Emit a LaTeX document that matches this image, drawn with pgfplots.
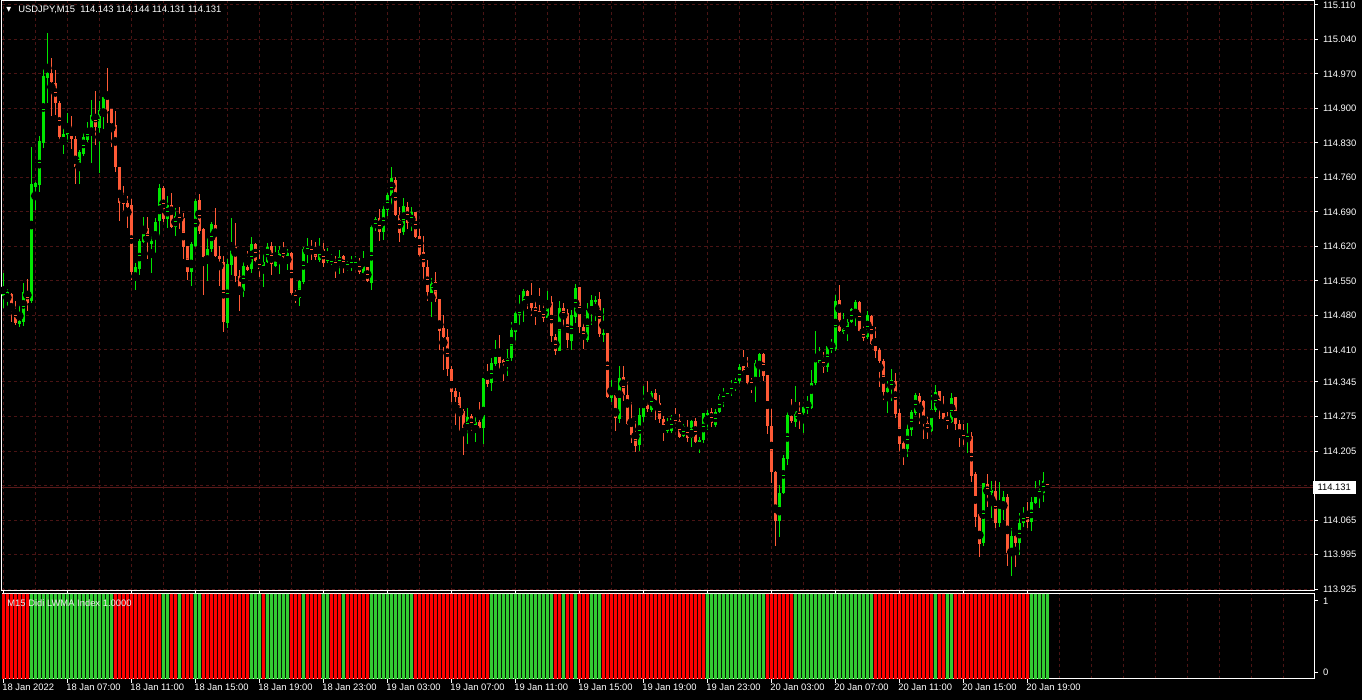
\documentclass[border=0pt]{standalone}
\usepackage{pgfplots}
\pgfplotsset{compat=1.18}
\usepackage{pgfplotstable}
\usepackage{fontspec}
\setmainfont{Liberation Sans}

\definecolor{upc}{HTML}{00E600}
\definecolor{dnc}{HTML}{FF5A36}
\definecolor{gridc}{HTML}{4A1414}
\definecolor{bidc}{HTML}{5A1A1A}
\definecolor{indg}{HTML}{32CD32}
\definecolor{indr}{HTML}{FF0000}
\newcommand\lbl{\fontsize{4.7}{5.6}\selectfont}

% bar index, open, high, low, close, indicator colour (1 green / 0 red)
\pgfplotstableread{
i o h l c g
0 114.519 114.566 114.495 114.528 0
1 114.524 114.534 114.499 114.528 0
2 114.524 114.526 114.467 114.493 0
3 114.493 114.509 114.461 114.465 0
4 114.463 114.501 114.457 114.469 0
5 114.467 114.546 114.459 114.528 0
6 114.528 114.554 114.489 114.505 0
7 114.509 114.822 114.505 114.747 1
8 114.741 114.751 114.694 114.749 1
9 114.745 114.844 114.730 114.834 1
10 114.830 114.984 114.820 114.966 1
11 114.962 115.053 114.911 114.972 1
12 114.972 115.002 114.885 114.954 1
13 114.952 114.978 114.887 114.911 1
14 114.911 114.915 114.832 114.842 1
15 114.840 114.862 114.808 114.848 1
16 114.848 114.891 114.832 114.850 1
17 114.850 114.885 114.818 114.838 1
18 114.838 114.844 114.747 114.781 1
19 114.781 114.816 114.747 114.812 1
20 114.808 114.852 114.804 114.842 1
21 114.836 114.872 114.832 114.860 1
22 114.858 114.917 114.789 114.887 1
23 114.889 114.935 114.826 114.862 1
24 114.860 114.915 114.769 114.897 1
25 114.895 114.925 114.858 114.923 1
26 114.925 114.982 114.870 114.895 1
27 114.899 114.899 114.822 114.870 1
28 114.866 114.895 114.771 114.781 0
29 114.781 114.781 114.672 114.708 0
30 114.710 114.743 114.688 114.706 0
31 114.708 114.722 114.657 114.700 0
32 114.704 114.716 114.552 114.568 0
33 114.566 114.586 114.532 114.578 0
34 114.574 114.635 114.562 114.631 0
35 114.629 114.680 114.627 114.655 0
36 114.657 114.680 114.594 114.629 0
37 114.625 114.645 114.566 114.631 0
38 114.635 114.678 114.607 114.670 0
39 114.672 114.747 114.641 114.739 0
40 114.739 114.743 114.670 114.676 1
41 114.676 114.722 114.657 114.704 1
42 114.704 114.728 114.657 114.659 0
43 114.659 114.698 114.641 114.682 0
44 114.680 114.700 114.655 114.676 1
45 114.678 114.688 114.594 114.619 0
46 114.621 114.621 114.552 114.568 0
47 114.568 114.629 114.540 114.625 0
48 114.621 114.716 114.619 114.712 1
49 114.714 114.726 114.645 114.651 1
50 114.655 114.657 114.521 114.598 0
51 114.598 114.637 114.550 114.615 0
52 114.615 114.670 114.609 114.665 0
53 114.663 114.698 114.598 114.600 0
54 114.600 114.621 114.540 114.594 0
55 114.588 114.600 114.446 114.467 0
56 114.465 114.594 114.454 114.584 0
57 114.582 114.678 114.562 114.617 0
58 114.619 114.668 114.548 114.560 0
59 114.560 114.572 114.489 114.532 0
60 114.530 114.588 114.517 114.580 0
61 114.578 114.611 114.570 114.572 0
62 114.574 114.639 114.566 114.625 1
63 114.625 114.627 114.586 114.590 1
64 114.592 114.613 114.558 114.574 1
65 114.574 114.609 114.538 114.588 0
66 114.588 114.627 114.586 114.619 1
67 114.621 114.629 114.562 114.584 1
68 114.580 114.621 114.578 114.596 1
69 114.594 114.621 114.564 114.613 1
70 114.615 114.629 114.590 114.598 1
71 114.598 114.615 114.572 114.607 1
72 114.607 114.609 114.519 114.526 0
73 114.528 114.532 114.505 114.513 0
74 114.515 114.552 114.499 114.550 0
75 114.548 114.619 114.544 114.615 1
76 114.613 114.637 114.586 114.617 0
77 114.615 114.633 114.592 114.611 0
78 114.611 114.629 114.592 114.598 0
79 114.592 114.637 114.588 114.617 0
80 114.615 114.627 114.578 114.586 1
81 114.590 114.617 114.586 114.594 1
82 114.588 114.605 114.582 114.592 0
83 114.592 114.600 114.556 114.582 0
84 114.584 114.613 114.564 114.598 0
85 114.600 114.603 114.566 114.578 1
86 114.582 114.590 114.570 114.586 0
87 114.586 114.600 114.570 114.590 0
88 114.586 114.600 114.578 114.590 0
89 114.590 114.596 114.564 114.568 0
90 114.566 114.611 114.564 114.582 0
91 114.578 114.578 114.548 114.550 0
92 114.546 114.668 114.532 114.659 1
93 114.657 114.680 114.651 114.676 1
94 114.678 114.696 114.631 114.649 1
95 114.649 114.708 114.633 114.696 1
96 114.694 114.728 114.682 114.724 1
97 114.722 114.781 114.704 114.759 1
98 114.755 114.761 114.682 114.684 1
99 114.684 114.700 114.629 114.647 1
100 114.649 114.718 114.643 114.702 1
101 114.700 114.710 114.655 114.668 1
102 114.668 114.700 114.651 114.690 1
103 114.690 114.690 114.637 114.639 0
104 114.641 114.655 114.598 114.603 0
105 114.609 114.641 114.552 114.578 0
106 114.578 114.592 114.509 114.528 0
107 114.526 114.556 114.477 114.546 0
108 114.548 114.568 114.507 114.513 0
109 114.513 114.513 114.410 114.448 0
110 114.454 114.481 114.369 114.436 0
111 114.436 114.452 114.357 114.371 0
112 114.371 114.377 114.304 114.325 0
113 114.327 114.333 114.258 114.314 0
114 114.314 114.325 114.243 114.284 0
115 114.286 114.290 114.197 114.245 0
116 114.249 114.292 114.219 114.274 0
117 114.276 114.280 114.245 114.251 0
118 114.254 114.278 114.223 114.264 0
119 114.264 114.304 114.249 114.251 0
120 114.251 114.353 114.219 114.353 0
121 114.351 114.381 114.335 114.341 0
122 114.343 114.394 114.327 114.383 1
123 114.381 114.430 114.377 114.410 1
124 114.408 114.440 114.369 114.383 1
125 114.390 114.392 114.347 114.383 1
126 114.385 114.412 114.357 114.394 1
127 114.394 114.467 114.388 114.450 1
128 114.446 114.491 114.426 114.485 1
129 114.481 114.521 114.461 114.493 1
130 114.495 114.534 114.467 114.530 1
131 114.530 114.532 114.493 114.513 1
132 114.515 114.546 114.479 114.495 1
133 114.497 114.511 114.461 114.485 1
134 114.489 114.536 114.485 114.487 1
135 114.487 114.505 114.467 114.475 1
136 114.475 114.530 114.475 114.505 1
137 114.507 114.519 114.426 114.438 1
138 114.436 114.442 114.400 114.408 0
139 114.408 114.509 114.408 114.495 0
140 114.495 114.505 114.456 114.479 1
141 114.485 114.493 114.414 114.430 0
142 114.428 114.491 114.410 114.481 0
143 114.477 114.544 114.465 114.536 1
144 114.538 114.538 114.444 114.456 0
145 114.456 114.467 114.412 114.432 0
146 114.430 114.505 114.426 114.491 0
147 114.489 114.521 114.461 114.511 1
148 114.509 114.519 114.469 114.511 1
149 114.513 114.528 114.436 114.442 1
150 114.442 114.495 114.426 114.444 0
151 114.444 114.444 114.312 114.314 0
152 114.312 114.349 114.304 114.318 0
153 114.318 114.322 114.245 114.272 0
154 114.270 114.377 114.262 114.353 0
155 114.355 114.377 114.306 114.318 0
156 114.318 114.345 114.258 114.260 0
157 114.260 114.304 114.221 114.237 0
158 114.241 114.266 114.203 114.215 0
159 114.217 114.292 114.205 114.278 0
160 114.274 114.337 114.264 114.302 0
161 114.302 114.347 114.284 114.290 0
162 114.288 114.327 114.284 114.322 0
163 114.322 114.331 114.268 114.302 0
164 114.302 114.318 114.262 114.270 0
165 114.270 114.276 114.225 114.247 0
166 114.245 114.272 114.241 114.249 0
167 114.245 114.278 114.241 114.272 0
168 114.270 114.292 114.251 114.264 0
169 114.266 114.280 114.231 114.233 0
170 114.235 114.260 114.233 114.256 0
171 114.254 114.268 114.223 114.231 0
172 114.231 114.268 114.213 114.266 0
173 114.266 114.272 114.221 114.223 0
174 114.223 114.233 114.201 114.227 0
175 114.227 114.282 114.221 114.282 0
176 114.278 114.288 114.247 114.282 1
177 114.284 114.292 114.254 114.262 1
178 114.258 114.290 114.254 114.284 1
179 114.284 114.320 114.282 114.316 1
180 114.314 114.333 114.294 114.318 1
181 114.318 114.331 114.314 114.327 1
182 114.325 114.349 114.316 114.339 1
183 114.341 114.353 114.327 114.347 1
184 114.347 114.381 114.341 114.375 1
185 114.377 114.410 114.363 114.365 1
186 114.375 114.396 114.337 114.343 1
187 114.345 114.353 114.322 114.341 1
188 114.339 114.390 114.304 114.383 1
189 114.381 114.404 114.355 114.402 1
190 114.402 114.404 114.347 114.357 1
191 114.359 114.359 114.239 114.256 0
192 114.256 114.290 114.140 114.162 0
193 114.162 114.164 114.012 114.063 0
194 114.063 114.136 114.030 114.120 0
195 114.120 114.197 114.118 114.191 0
196 114.189 114.288 114.177 114.278 0
197 114.276 114.310 114.262 114.266 0
198 114.264 114.337 114.254 114.286 1
199 114.284 114.304 114.249 114.278 1
200 114.282 114.298 114.241 114.294 1
201 114.292 114.316 114.280 114.294 1
202 114.292 114.369 114.290 114.343 1
203 114.343 114.448 114.339 114.385 1
204 114.383 114.416 114.381 114.396 1
205 114.396 114.406 114.363 114.375 1
206 114.375 114.420 114.365 114.418 1
207 114.412 114.432 114.404 114.414 1
208 114.412 114.521 114.408 114.509 1
209 114.511 114.542 114.446 114.448 1
210 114.446 114.485 114.442 114.452 1
211 114.450 114.473 114.428 114.467 1
212 114.467 114.495 114.465 114.493 1
213 114.493 114.511 114.459 114.507 1
214 114.507 114.509 114.446 114.448 1
215 114.448 114.463 114.428 114.434 1
216 114.436 114.489 114.432 114.481 1
217 114.479 114.481 114.420 114.422 1
218 114.426 114.456 114.394 114.408 0
219 114.410 114.414 114.335 114.388 0
220 114.388 114.392 114.308 114.325 0
221 114.325 114.347 114.282 114.333 0
222 114.331 114.371 114.306 114.349 0
223 114.347 114.363 114.272 114.280 0
224 114.282 114.290 114.197 114.219 0
225 114.221 114.225 114.177 114.207 0
226 114.209 114.262 114.193 114.249 0
227 114.247 114.288 114.235 114.284 0
228 114.282 114.322 114.278 114.318 0
229 114.316 114.322 114.260 114.304 0
230 114.306 114.308 114.229 114.260 0
231 114.262 114.274 114.229 114.243 0
232 114.245 114.318 114.243 114.290 0
233 114.288 114.339 114.284 114.325 1
234 114.327 114.327 114.270 114.292 0
235 114.294 114.316 114.264 114.270 0
236 114.272 114.284 114.249 114.262 1
237 114.264 114.322 114.262 114.312 1
238 114.314 114.314 114.247 114.260 0
239 114.260 114.268 114.213 114.241 0
240 114.239 114.260 114.217 114.233 0
241 114.233 114.262 114.201 114.237 0
242 114.235 114.243 114.142 114.154 0
243 114.158 114.162 114.051 114.071 0
244 114.077 114.079 113.990 114.016 0
245 114.018 114.140 114.012 114.140 0
246 114.138 114.158 114.091 114.120 0
247 114.120 114.144 114.069 114.126 0
248 114.124 114.144 114.049 114.059 0
249 114.059 114.142 114.051 114.095 0
250 114.099 114.124 114.065 114.112 0
251 114.112 114.118 113.972 113.998 0
252 114.000 114.049 113.951 114.032 0
253 114.032 114.034 113.970 114.018 0
254 114.018 114.079 113.994 114.059 0
255 114.059 114.091 114.051 114.079 0
256 114.079 114.101 114.049 114.061 0
257 114.061 114.112 114.043 114.101 1
258 114.099 114.144 114.097 114.122 1
259 114.120 114.146 114.089 114.124 1
260 114.120 114.162 114.101 114.144 1
261 114.143 114.144 114.131 114.131 1
}\candles

\pgfplotsset{
  mtframe/.style={
    scale only axis, width=656pt, xmin=-0.33, xmax=327.67,
    axis line style={white, line width=0.5pt},
    tick style={white, line width=0.5pt},
    tick label style={font=\lbl, text=white},
    /pgf/number format/assume math mode=true,
    ytick pos=right, yticklabel pos=right,
    tick align=outside,
  },
}

\begin{document}
\begin{tikzpicture}
\fill[black] (0,0) rectangle (681pt,350pt);
\useasboundingbox (0,0) rectangle (681pt,350pt);

% price panel
\begin{axis}[mtframe, at={(1pt,54.5pt)}, anchor=south west, height=295pt,
  ymin=113.921, ymax=115.118,
  xtick={0,8,...,320}, xticklabels={}, x tick style={draw=none},
  ytick={113.925,113.995,114.065,114.135,114.205,114.275,114.345,114.410,114.480,114.550,114.620,114.690,114.760,114.830,114.900,114.970,115.040,115.110},
  yticklabels={113.925,113.995,114.065,,114.205,114.275,114.345,114.410,114.480,114.550,114.620,114.690,114.760,114.830,114.900,114.970,115.040,115.110},
  major tick length=2pt,
  yticklabel style={anchor=west, xshift=-1pt},
  grid=major, major grid style={gridc, line width=0.5pt, dash pattern=on 1.5pt off 1.5pt},
  extra y ticks={114.131}, extra y tick labels={114.131},
  extra y tick style={major grid style={bidc, solid, line width=0.5pt},
    yticklabel style={fill=white, text=black, inner xsep=2.4pt, inner ysep=1.4pt, xshift=-1.8pt}},
]
% wicks
\addplot[only marks, mark=none, error bars/.cd, y dir=both, y explicit, error mark=none,
  error bar style={line width=0.5pt, color=upc}]
  table[x=i, y expr={\thisrow{c}>=\thisrow{o} ? 0.5*(\thisrow{h}+\thisrow{l}) : nan},
        y error expr={0.5*(\thisrow{h}-\thisrow{l})}] {\candles};
\addplot[only marks, mark=none, error bars/.cd, y dir=both, y explicit, error mark=none,
  error bar style={line width=0.5pt, color=dnc}]
  table[x=i, y expr={\thisrow{c}<\thisrow{o} ? 0.5*(\thisrow{h}+\thisrow{l}) : nan},
        y error expr={0.5*(\thisrow{h}-\thisrow{l})}] {\candles};
% bodies
\addplot[only marks, mark=-, mark size=0.75pt, mark options={line width=0.5pt, color=upc},
  error bars/.cd, y dir=both, y explicit, error mark=none,
  error bar style={line width=1.5pt, color=upc}]
  table[x=i, y expr={\thisrow{c}>=\thisrow{o} ? 0.5*(\thisrow{o}+\thisrow{c}) : nan},
        y error expr={0.5*abs(\thisrow{c}-\thisrow{o})}] {\candles};
\addplot[only marks, mark=-, mark size=0.75pt, mark options={line width=0.5pt, color=dnc},
  error bars/.cd, y dir=both, y explicit, error mark=none,
  error bar style={line width=1.5pt, color=dnc}]
  table[x=i, y expr={\thisrow{c}<\thisrow{o} ? 0.5*(\thisrow{o}+\thisrow{c}) : nan},
        y error expr={0.5*abs(\thisrow{c}-\thisrow{o})}] {\candles};
\end{axis}

% indicator panel
\begin{axis}[mtframe, at={(1pt,10.5pt)}, anchor=south west, height=42.5pt,
  ymin=0, ymax=1,
  ytick={0.082,0.918}, yticklabels={0,1},
  yticklabel style={anchor=west, xshift=-1pt},
  major tick length=2pt,
  xtick={0,16,...,256},
  xticklabels={18 Jan 2022,18 Jan 07:00,18 Jan 11:00,18 Jan 15:00,18 Jan 19:00,18 Jan 23:00,19 Jan 03:00,19 Jan 07:00,19 Jan 11:00,19 Jan 15:00,19 Jan 19:00,19 Jan 23:00,20 Jan 03:00,20 Jan 07:00,20 Jan 11:00,20 Jan 15:00,20 Jan 19:00},
  xticklabel style={anchor=north west, xshift=-1.2pt, inner sep=0.5pt},
  minor xtick={0,8,...,320}, minor tick length=0pt,
  xminorgrids, minor grid style={gridc, line width=0.5pt, dash pattern=on 1.5pt off 1.5pt},
]
\addplot[ybar, bar width=1.5pt, draw=none, fill=indg]
  table[x=i, y expr={\thisrow{g}>0.5 ? 1 : nan}] {\candles};
\addplot[ybar, bar width=1.5pt, draw=none, fill=indr]
  table[x=i, y expr={\thisrow{g}<0.5 ? 1 : nan}] {\candles};
\end{axis}

\node[anchor=west, inner sep=0pt, text=white, font=\fontspec{DejaVu Sans}\fontsize{3.2}{4}\selectfont] at (3pt,345pt) {▼};
\node[anchor=west, inner sep=0pt, text=white, font=\lbl] at (9pt,345pt) {USDJPY,M15\ \ 114.143 114.144 114.131 114.131};
\node[anchor=west, inner sep=0pt, text=white!85!gray, font=\lbl] at (3.5pt,48.5pt) {M15 Didi LWMA Index 1.0000};
\end{tikzpicture}
\end{document}
